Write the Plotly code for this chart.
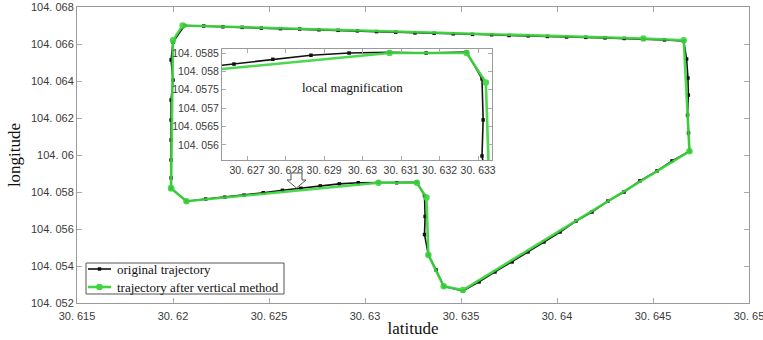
import plotly.graph_objects as go

# ---- trajectory data (latitude, longitude) ----
orig_lat = [
    30.6199, 30.6207, 30.6217, 30.6227, 30.6237, 30.6247, 30.6257, 30.62666,
    30.62767, 30.62866, 30.62965, 30.6307, 30.63165, 30.6327, 30.6331, 30.63313,
    30.6331, 30.6333, 30.6337, 30.6341, 30.6351,
    30.63594, 30.63677, 30.63766, 30.63849, 30.63932, 30.64016, 30.64099,
    30.64182, 30.64265, 30.64349, 30.64432, 30.64521, 30.64599, 30.6469,
    30.64685, 30.6468, 30.64684, 30.64682, 30.64675, 30.6466,
    30.6456, 30.6445, 30.6435, 30.6425, 30.6415, 30.6405, 30.6395, 30.6385,
    30.6375, 30.6366, 30.6356, 30.6346, 30.6336, 30.6326, 30.6316, 30.6306,
    30.6296, 30.6286, 30.6276, 30.6266, 30.6256, 30.6246, 30.6236, 30.6226,
    30.6216, 30.6206, 30.6200,
    30.6199, 30.6200, 30.6199, 30.6199, 30.6199, 30.6199, 30.6199, 30.6199,
]
orig_lon = [
    104.0582, 104.0575, 104.05762, 104.05772, 104.05783, 104.05796, 104.05809, 104.0582,
    104.05833, 104.05844, 104.0585, 104.05852, 104.0585, 104.05853, 104.0578, 104.05668,
    104.0557, 104.0546, 104.05379, 104.0529, 104.05265,
    104.05314, 104.05368, 104.05422, 104.05476, 104.0553, 104.05584, 104.05643,
    104.05692, 104.05751, 104.058, 104.0586, 104.05914, 104.05968, 104.0602,
    104.06119, 104.06216, 104.06324, 104.06416, 104.06519, 104.06616,
    104.06622, 104.06627, 104.0663, 104.06633, 104.06636, 104.06638, 104.06641, 104.06644,
    104.06646, 104.0665, 104.06652, 104.06655, 104.06658, 104.0666, 104.06664, 104.06667,
    104.06671, 104.06674, 104.06677, 104.06681, 104.06683, 104.06686, 104.0669, 104.06693,
    104.06697, 104.0670, 104.0661,
    104.06514, 104.06405, 104.06297, 104.06189, 104.06081, 104.05973, 104.05876, 104.0582,
]

vert_lat = [30.6199, 30.6207, 30.6307, 30.6327, 30.6332, 30.6333, 30.6341, 30.6351,
            30.6469, 30.6466, 30.6445, 30.6205, 30.6200, 30.6199]
vert_lon = [104.0582, 104.0575, 104.0585, 104.0585, 104.0577, 104.0546, 104.0529, 104.0527,
            104.0602, 104.0662, 104.0663, 104.0670, 104.0662, 104.0582]

series_names = ["original trajectory", "trajectory after vertical method"]

# ---- tick labels ----
x_ticks = [30.615, 30.62, 30.625, 30.63, 30.635, 30.64, 30.645, 30.65]
x_ticktext = ["30. 615", "30. 62", "30. 625", "30. 63", "30. 635", "30. 64", "30. 645", "30. 65"]
y_ticks = [104.052, 104.054, 104.056, 104.058, 104.06, 104.062, 104.064, 104.066, 104.068]
y_ticktext = ["104. 052", "104. 054", "104. 056", "104. 058", "104. 06", "104. 062",
              "104. 064", "104. 066", "104. 068"]
zx_ticks = [30.627, 30.628, 30.629, 30.63, 30.631, 30.632, 30.633]
zx_ticktext = ["30. 627", "30. 628", "30. 629", "30. 63", "30. 631", "30. 632", "30. 633"]
zy_ticks = [104.056, 104.0565, 104.057, 104.0575, 104.058, 104.0585]
zy_ticktext = ["104. 056", "104. 0565", "104. 057", "104. 0575", "104. 058", "104. 0585"]

BLACK = "#111111"
GREEN = "#3ed63e"
FRAME = "#9a9a9a"
TICKFONT = dict(family="Liberation Sans", size=11, color="#3a3a3a")
SERIF = "Liberation Serif"

W, H = 763, 340
ML, MR, MT, MB = 77, 14, 7, 37
PW, PH = W - ML - MR, H - MT - MB


def px(xp, yp):
    """pixel position on the canvas -> paper coordinates"""
    return (xp - ML) / PW, (H - MB - yp) / PH


black_line = dict(color=BLACK, width=1.6)
black_marker = dict(symbol="square", size=3.5, color=BLACK)
green_line = dict(color=GREEN, width=2.6)
green_marker = dict(symbol="circle", size=6.5, color=GREEN)

fig = go.Figure()
for xa, ya in (("x", "y"), ("x2", "y2")):
    fig.add_trace(go.Scatter(x=orig_lat, y=orig_lon, mode="lines+markers", name=series_names[0],
                             line=black_line, marker=black_marker, xaxis=xa, yaxis=ya))
    fig.add_trace(go.Scatter(x=vert_lat, y=vert_lon, mode="lines+markers", name=series_names[1],
                             line=green_line, marker=green_marker, opacity=0.92,
                             xaxis=xa, yaxis=ya))

axis_common = dict(
    showgrid=False, zeroline=False, showline=True, mirror="ticks",
    linecolor=FRAME, linewidth=1, ticks="inside", ticklen=5,
    tickcolor="#aaaaaa", tickfont=TICKFONT, automargin=False,
)
inset_axis = {**axis_common, "tickfont": dict(TICKFONT, size=10.5), "ticklen": 4}

ix0, iy1 = px(222, 49)
ix1, iy0 = px(492, 160)

fig.update_layout(
    width=W, height=H,
    margin=dict(l=ML, r=MR, t=MT, b=MB, autoexpand=False),
    paper_bgcolor="white", plot_bgcolor="white",
    showlegend=False,
    xaxis=dict(domain=[0, 1], range=[30.615, 30.65], autorange=False,
               tickvals=x_ticks, ticktext=x_ticktext,
               ticklabelstandoff=3, ticklabeloverflow="allow",
               title=dict(text="latitude", font=dict(family=SERIF, size=17, color="#111"), standoff=0),
               **axis_common),
    yaxis=dict(domain=[0, 1], range=[104.052, 104.068], autorange=False,
               tickvals=y_ticks, ticktext=y_ticktext,
               title=dict(text="longitude", font=dict(family=SERIF, size=17, color="#111"), standoff=6),
               **axis_common),
    xaxis2=dict(domain=[ix0, ix1], anchor="y2", range=[30.62635, 30.63336], autorange=False,
                tickvals=zx_ticks, ticktext=zx_ticktext, **inset_axis),
    yaxis2=dict(domain=[iy0, iy1], anchor="x2", range=[104.05559, 104.05861], autorange=False,
                tickvals=zy_ticks, ticktext=zy_ticktext, **inset_axis),
)

# white backing for the magnified view
fig.add_shape(type="rect", xref="paper", yref="paper", x0=ix0, x1=ix1, y0=iy0, y1=iy1,
              fillcolor="white", line=dict(width=0), layer="below")

lx, ly = px(352, 78)
fig.add_annotation(text="local magnification", xref="paper", yref="paper", x=lx, y=ly,
                   showarrow=False, font=dict(family=SERIF, size=13, color="#111"))

# hollow arrow pointing from the magnified view down to the trajectory
arrow_pts = [(291, 173), (302, 173), (302, 180), (306, 180), (296.5, 188), (287, 180), (291, 180)]
path = "M " + " L ".join("{:.5f},{:.5f}".format(*px(a, b)) for a, b in arrow_pts) + " Z"
fig.add_shape(type="path", path=path, xref="paper", yref="paper",
              fillcolor="white", line=dict(color="#555555", width=1))

# ---- legend box ----
bx0, by1 = px(86, 263)
bx1, by0 = px(284, 294)
fig.add_shape(type="rect", xref="paper", yref="paper", x0=bx0, x1=bx1, y0=by0, y1=by1,
              fillcolor="white", line=dict(color="#555555", width=1))

rows = [(269, black_line, "square", 3.5), (287, green_line, "circle", 6.5)]
for (ry, ln, sym, msz), label in zip(rows, series_names):
    x0, yy = px(88, ry)
    x1, _ = px(111, ry)
    fig.add_shape(type="line", xref="paper", yref="paper", x0=x0, x1=x1, y0=yy, y1=yy,
                  line=dict(color=ln["color"], width=ln["width"]))
    hw = msz / 2
    mx0, my1 = px(99.5 - hw, ry - hw)
    mx1, my0 = px(99.5 + hw, ry + hw)
    fig.add_shape(type="rect" if sym == "square" else "circle", xref="paper", yref="paper",
                  x0=mx0, x1=mx1, y0=my0, y1=my1, fillcolor=ln["color"], line=dict(width=0))
    tx, _ = px(115, ry)
    fig.add_annotation(text=label, xref="paper", yref="paper", x=tx, y=yy, xanchor="left",
                       yanchor="middle", showarrow=False,
                       font=dict(family=SERIF, size=13, color="#111"))

fig.write_html("out.html")
